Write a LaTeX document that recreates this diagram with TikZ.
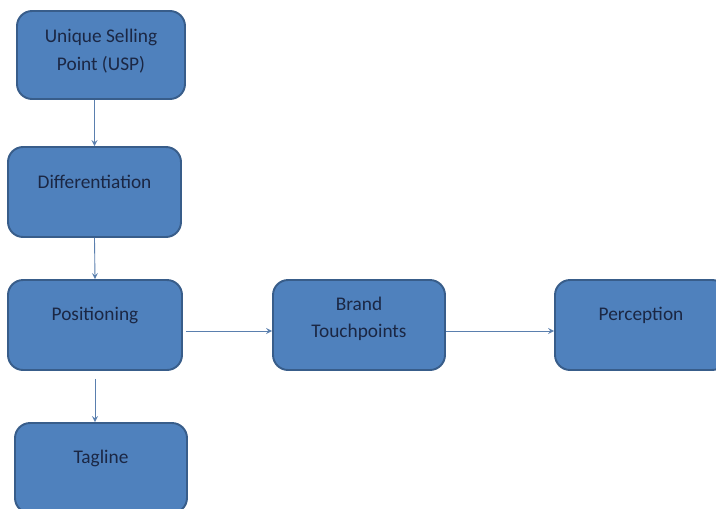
\documentclass[tikz,border=0pt]{standalone}
\usepackage{fontspec}
\setmainfont{Carlito}
\usepackage{tikz}
\usepackage{xcolor}
\definecolor{boxfill}{HTML}{4F81BD}
\definecolor{boxline}{HTML}{385D8A}
\definecolor{boxtext}{HTML}{1B2744}
\definecolor{arrowcol}{HTML}{5A7FAE}

\begin{document}
\begin{tikzpicture}[x=0.02cm,y=-0.02cm,
  every node/.style={font=\fontsize{11}{15.5}\selectfont},
  stepbox/.style={draw=boxline,fill=boxfill,line width=1.1pt,rounded corners=0.3cm,
    minimum width=3.44cm,minimum height=1.8cm,inner sep=0pt},
  boxlabel/.style={anchor=center,yshift=-0.72cm,align=center,text=boxtext},
  link/.style={draw=arrowcol,line width=0.5pt,->,>=stealth}]
\clip (0,0) rectangle (716,508);
\fill[white] (0,0) rectangle (716,508);
% left column
\node[stepbox,minimum width=3.36cm,minimum height=1.76cm,
  label={[boxlabel,yshift=-0.1cm]north:Unique Selling\\Point (USP)}] (usp) at (101,55) {};
\node[stepbox,minimum width=3.46cm,label={[boxlabel]north:Differentiation}] (diff) at (94.5,192) {};
\node[stepbox,minimum width=3.48cm,label={[boxlabel]north:Positioning}] (pos) at (95,325) {};
\node[stepbox,label={[boxlabel]north:Tagline}] (tag) at (101,468) {};
% right row
\node[stepbox,label={[boxlabel,yshift=-0.08cm]north:Brand\\Touchpoints}] (brand) at (359,325) {};
\node[stepbox,label={[boxlabel]north:Perception}] (perc) at (641,325) {};
% arrows
\draw[link] (usp.south -| diff.south) -- (diff.north);
\draw[link] (diff.south) -- (pos.north);
\draw[link,shorten <=0.16cm] (pos.south) -- (tag.north -| pos.south);
\draw[link,shorten <=0.06cm] ([yshift=-0.12cm]pos.east) -- ([yshift=-0.12cm]brand.west);
\draw[link] ([yshift=-0.12cm]brand.east) -- ([yshift=-0.12cm]perc.west);
\end{tikzpicture}
\end{document}
